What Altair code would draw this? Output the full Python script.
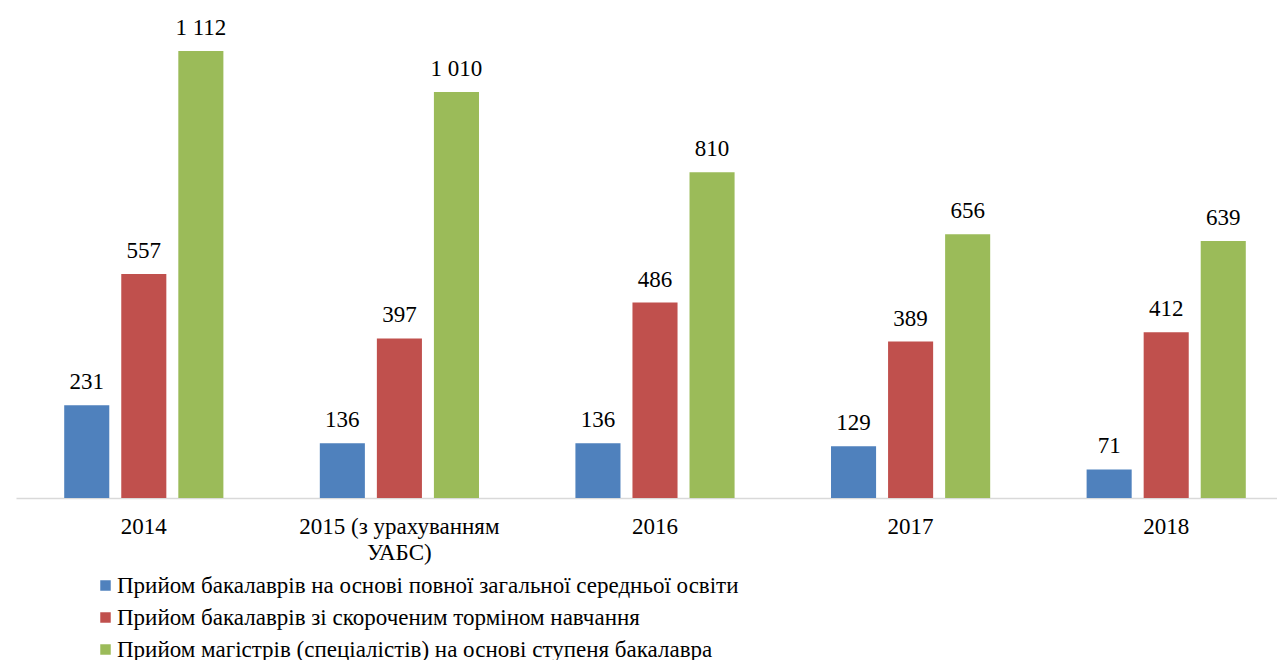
import altair as alt
import pandas as pd

categories = ["2014", "2015 (з урахуванням УАБС)", "2016", "2017", "2018"]
series_names = [
    "Прийом бакалаврів на основі повної загальної середньої освіти",
    "Прийом бакалаврів зі скороченим торміном навчання",
    "Прийом магістрів (спеціалістів)  на основі ступеня бакалавра",
]
bachelor_full = [231, 136, 136, 129, 71]
bachelor_short = [557, 397, 486, 389, 412]
masters = [1112, 1010, 810, 656, 639]
colors = ["#4F81BD", "#C0504D", "#9BBB59"]

rows = []
for values, name in zip([bachelor_full, bachelor_short, masters], series_names):
    for cat, v in zip(categories, values):
        rows.append({"cat": cat, "series": name, "value": v})
df = pd.DataFrame(rows)

FONT = "Liberation Serif"

x = alt.X(
    "cat:N",
    sort=categories,
    scale=alt.Scale(range=[0, 1278], paddingInner=0, paddingOuter=0),
    axis=alt.Axis(
        title=None,
        labelAngle=0,
        ticks=False,
        labelPadding=17,
        labelFont=FONT,
        labelFontSize=23,
        labelColor="#000000",
        labelLineHeight=26,
        labelLimit=400,
        domainColor="#D9D9D9",
        domainWidth=1.5,
        grid=False,
        labelExpr="datum.label == '2015 (з урахуванням УАБС)' ? ['2015 (з урахуванням', 'УАБС)'] : datum.label",
    ),
)
xo = alt.XOffset(
    "series:N",
    sort=series_names,
    scale=alt.Scale(paddingInner=0.21, paddingOuter=0.845),
)
y = alt.Y("value:Q", scale=alt.Scale(domain=[0, 1189]), axis=None)

base = alt.Chart(df)

bars = base.mark_bar().encode(
    x=x,
    xOffset=xo,
    y=y,
    color=alt.Color(
        "series:N",
        sort=series_names,
        scale=alt.Scale(domain=series_names, range=colors),
        legend=alt.Legend(
            title=None,
            orient="none",
            legendX=78,
            legendY=554,
            direction="vertical",
            symbolType="square",
            symbolSize=110,
            symbolStrokeWidth=0,
            labelFont=FONT,
            labelFontSize=23,
            labelColor="#000000",
            labelLimit=1000,
            rowPadding=8,
            symbolOffset=0,
            labelOffset=0,
            padding=0,
        ),
    ),
)

labels = base.transform_calculate(
    label="replace(format(datum.value, ','), ',', ' ')"
).mark_text(
    baseline="alphabetic", dy=-16, font=FONT, fontSize=23, color="#000000"
).encode(
    x=x,
    xOffset=xo,
    y=y,
    text="label:N",
)

chart = (
    alt.layer(bars, labels)
    .properties(
        width=1261,
        height=478,
        autosize=alt.AutoSizeParams(type="none"),
        padding={"left": 8, "top": 12, "right": 0, "bottom": 162},
    )
    .configure_view(stroke=None)
)

chart.save("out.html", embed_options={"renderer": "svg", "actions": False})
